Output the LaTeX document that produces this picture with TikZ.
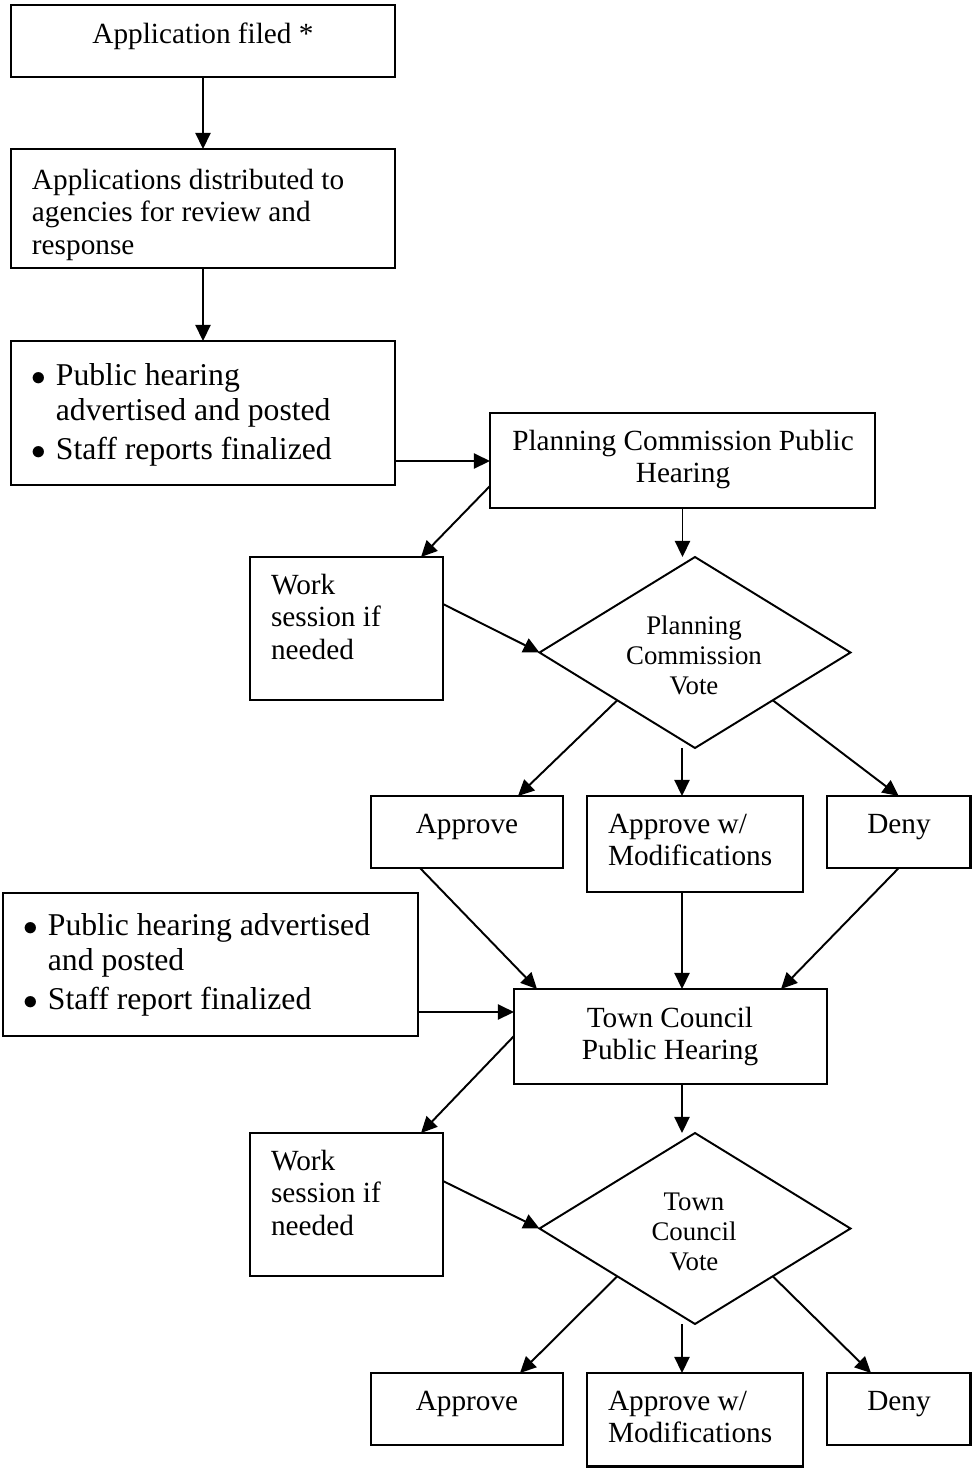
\documentclass[tikz,border=0pt]{standalone}
\usepackage{fontspec}
\setmainfont{Liberation Serif}
\usetikzlibrary{arrows.meta,calc,fit,shapes.geometric}
\newcommand\tlines[2][l]{\begin{tabular}[t]{@{}#1@{}}#2\end{tabular}}
\newcommand\bul{\makebox[10.2pt][l]{$\bullet$}}
\begin{document}
\begin{tikzpicture}[x=0.41pt,y=-0.41pt,
  box/.style={draw,line width=1pt,inner sep=0pt,outer sep=0pt},
  dia/.style={draw,diamond,line width=0.8pt,inner sep=0pt,outer sep=0pt,
    minimum width=127.5pt,minimum height=78.3pt},
  txt/.style={inner sep=0pt,outer sep=0pt,font=\fontsize{12}{13.5}\selectfont},
  btxt/.style={inner sep=0pt,outer sep=0pt,font=\fontsize{13}{14.5}\selectfont},
  dtxt/.style={inner sep=0pt,outer sep=0pt,font=\fontsize{11}{12.5}\selectfont},
  arr/.style={line width=0.8pt,-{Triangle[length=6.6pt,width=6.2pt]}}]
\useasboundingbox (0,0) rectangle (972,1468);
% boxes
\node[box,fit={(11,5)(395,77)}] (b1) {};
\node[box,fit={(11,149)(395,268)}] (b2) {};
\node[box,fit={(11,341)(395,485)}] (b3) {};
\node[box,fit={(490,413)(875,508)}] (pch) {};
\node[box,fit={(250,557)(443,700)}] (w1) {};
\node[dia] (d1) at (695,652.5) {};
\node[box,fit={(371,796)(563,868)}] (ap1) {};
\node[box,fit={(587,796)(803,892)}] (am1) {};
\node[box,fit={(827,796)(970.5,868)}] (dn1) {};
\node[box,fit={(3,893)(418,1036)}] (b5) {};
\node[box,fit={(514,989)(827,1084)}] (tc) {};
\node[box,fit={(250,1133)(443,1276)}] (w2) {};
\node[dia] (d2) at (695,1228.5) {};
\node[box,fit={(371,1373)(563,1445)}] (ap2) {};
\node[box,fit={(587,1373)(803,1466.5)}] (am2) {};
\node[box,fit={(827,1373)(970.5,1445)}] (dn2) {};
% texts
\node[txt,anchor=base] (t1) at (203,43) {Application filed *};
\node[txt,anchor=base west] (t2) at (32,189) {\tlines{Applications distributed to\\agencies for review and\\response}};
\node[btxt,anchor=base west] (t3) at (31,385) {\begin{tabular}[t]{@{}l@{}l@{}}\bul & Public hearing\\ & advertised and posted\\[1.6pt] \bul & Staff reports finalized\end{tabular}};
\node[txt,anchor=base] (t4) at (683,450) {\tlines[c]{Planning Commission Public\\Hearing}};
\node[txt,anchor=base west] (t5) at (271,594) {\tlines{Work\\session if\\needed}};
\node[dtxt,anchor=base] (t6) at (694,634) {\tlines[c]{Planning\\Commission\\Vote}};
\node[txt,anchor=base] (t7) at (467,833) {Approve};
\node[txt,anchor=base west] (t8) at (608,833) {\tlines{Approve w/\\Modifications}};
\node[txt,anchor=base] (t9) at (899,833) {Deny};
\node[btxt,anchor=base west] (t10) at (23,935) {\begin{tabular}[t]{@{}l@{}l@{}}\bul & Public hearing advertised\\ & and posted\\[1.4pt] \bul & Staff report finalized\end{tabular}};
\node[txt,anchor=base] (t11) at (670,1027) {\tlines[c]{Town Council\\Public Hearing}};
\node[txt,anchor=base west] (t12) at (271,1170) {\tlines{Work\\session if\\needed}};
\node[dtxt,anchor=base] (t13) at (694,1210) {\tlines[c]{Town\\Council\\Vote}};
\node[txt,anchor=base] (t14) at (467,1410) {Approve};
\node[txt,anchor=base west] (t15) at (608,1410) {\tlines{Approve w/\\Modifications}};
\node[txt,anchor=base] (t16) at (899,1410) {Deny};
% connectors
\draw[arr] (b1.south) -- (b2.north);
\draw[arr] (b2.south) -- (b3.north);
\draw[arr] ($(b3.south east)+(0,-24)$) -- ($(pch.north west)+(0,48)$);
\draw[arr] ($(pch.north west)+(0,73)$) -- ($(w1.north west)+(171,0)$);
\draw[arr] (pch.south) -- (pch.south |- d1.north);
\draw[arr] ($(w1.north east)+(0,47)$) -- (d1.west);
\draw[arr] ($(d1.west)!0.5!(d1.south)$) -- ($(ap1.north west)+(147,0)$);
\draw[arr] ($(d1.south)+(-13,0)$) -- ($(am1.north west)+(95,0)$);
\draw[arr] ($(d1.east)!0.5!(d1.south)$) -- (dn1.north);
\draw[arr] ($(ap1.south west)+(49,0)$) -- ($(tc.north west)+(23,0)$);
\draw[arr] ($(am1.south west)+(95,0)$) -- ($(tc.north west)+(168,0)$);
\draw[arr] (dn1.south) -- ($(tc.north east)+(-46,0)$);
\draw[arr] ($(b5.south east)+(0,-24)$) -- ($(tc.north west)+(0,23)$);
\draw[arr] ($(tc.north west)+(0,47)$) -- ($(w2.north west)+(171,0)$);
\draw[arr] ($(tc.south west)+(168,0)$) -- ($(d2.north)+(-13,0)$);
\draw[arr] ($(w2.north east)+(0,48)$) -- (d2.west);
\draw[arr] ($(d2.west)!0.5!(d2.south)$) -- ($(ap2.north west)+(149,0)$);
\draw[arr] ($(d2.south)+(-13,0)$) -- ($(am2.north west)+(95,0)$);
\draw[arr] ($(d2.east)!0.5!(d2.south)$) -- ($(dn2.north west)+(44,0)$);
\end{tikzpicture}
\end{document}
